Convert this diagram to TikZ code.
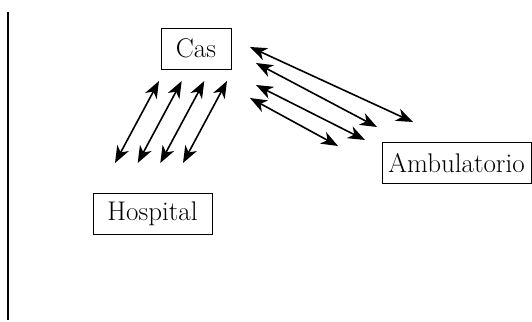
\documentclass[tikz,border=0pt]{standalone}
\usepackage{fontspec}
\setmainfont{Latin Modern Roman}
\usetikzlibrary{arrows.meta}
\begin{document}
\begin{tikzpicture}[x=1pt,y=-1pt,
  box/.style={draw,line width=0.6pt,inner sep=0pt,minimum height=41pt,font=\fontsize{27}{31}\selectfont},
  dbl/.style={line width=1.6pt,{Stealth[length=17pt,width=13pt,inset=5pt]}-{Stealth[length=17pt,width=13pt,inset=5pt]}}]
\useasboundingbox (0,0) rectangle (532,321);
\draw[line width=2pt] (8,12) -- (8,320);
\node[box,minimum width=70pt] (cas) at (196,48.5) {Cas};
\node[box,minimum width=119pt] (hosp) at (152.5,214) {Hospital};
\node[box,minimum width=149pt] (amb) at (456.5,163) {Ambulatorio};
% Hospital - Cas arrows
\foreach \i/\dx in {1/0,2/22.7,3/45.3,4/68}{
  \coordinate (h\i) at (115+\dx,163);
  \coordinate (c\i) at (159+\dx,81);
  \draw[dbl] (h\i) -- (c\i);
}
% Cas - Ambulatorio arrows
\coordinate (a1s) at (250,47); \coordinate (a1e) at (413,122);
\coordinate (a2s) at (256,63); \coordinate (a2e) at (377,127);
\coordinate (a3s) at (256,85); \coordinate (a3e) at (365,140);
\coordinate (a4s) at (250,98); \coordinate (a4e) at (338,146);
\foreach \i in {1,2,3,4}{\draw[dbl] (a\i s) -- (a\i e);}
\end{tikzpicture}
\end{document}
